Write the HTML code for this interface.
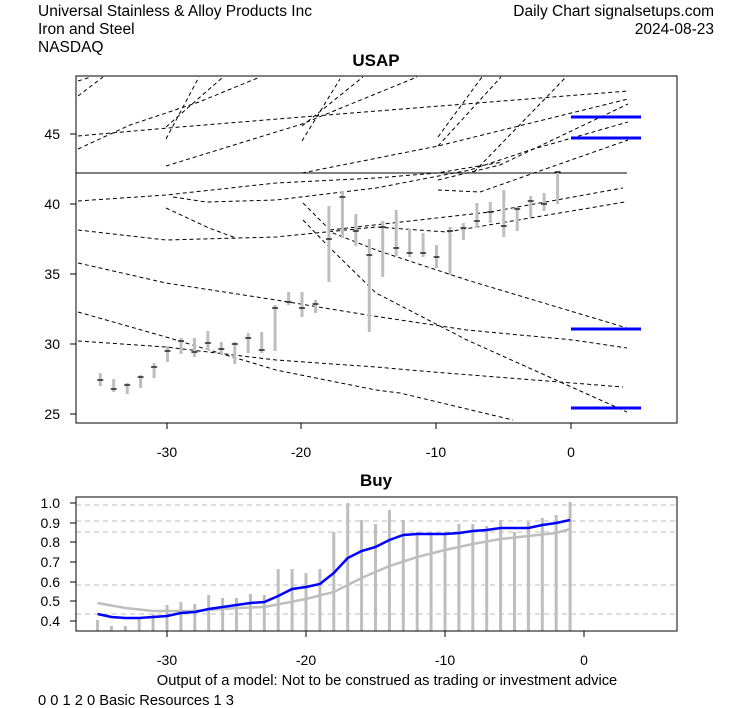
<!DOCTYPE html>
<html><head><meta charset="utf-8"><style>
body{margin:0;background:#fff;}
svg{display:block;font-family:"Liberation Sans",Arial,sans-serif;}
</style></head><body>
<svg width="753" height="708" viewBox="0 0 753 708" xmlns="http://www.w3.org/2000/svg">
<rect width="753" height="708" fill="#fff"/>
<g font-size="15.5" fill="#000">
<text x="38" y="16">Universal Stainless &amp; Alloy Products Inc</text>
<text x="38" y="34">Iron and Steel</text>
<text x="38" y="52">NASDAQ</text>
<text x="714" y="16" text-anchor="end">Daily Chart signalsetups.com</text>
<text x="714" y="34" text-anchor="end">2024-08-23</text>
<text x="376" y="66" text-anchor="middle" font-weight="bold" font-size="17">USAP</text>
<text x="376" y="486" text-anchor="middle" font-weight="bold" font-size="17">Buy</text>
<text x="387" y="685" text-anchor="middle" font-size="14.7">Output of a model: Not to be construed as trading or investment advice</text>
<text x="38" y="705" font-size="14.7">0 0 1 2 0 Basic Resources 1 3</text>
</g>
<g fill="none" stroke="#000" stroke-width="1" stroke-dasharray="4,3">
<polyline points="78,96 103,77"/>
<polyline points="78,81 91,77"/>
<polyline points="78,149 130,125 199,102 260,77"/>
<polyline points="78,136 168,128 302,117 440,106 628,91"/>
<polyline points="166,139 199,77"/>
<polyline points="166,127 223,77"/>
<polyline points="166,166 302,124 417,77"/>
<polyline points="302,141 340,79"/>
<polyline points="302,126 363,77"/>
<polyline points="438,137 482,77"/>
<polyline points="438,146 501,77"/>
<polyline points="474,172 566,77"/>
<polyline points="302,173 438,146 628,99"/>
<polyline points="438,180 500,165 628,104"/>
<polyline points="438,190 480,192 628,140"/>
<polyline points="78,201 166,195 276,183 376,178 437,173 503,162"/>
<polyline points="173,197 206,202 276,200 376,188 470,170 530,150 628,122"/>
<polyline points="78,230 166,240 276,237 376,227 447,232 530,218 625,202"/>
<polyline points="330,230 490,212 623,188"/>
<polyline points="166,208 209,228 236,238"/>
<polyline points="78,263 166,283 276,300 367,315 467,330 573,340 627,348"/>
<polyline points="78,312 166,337 276,370 376,390 400,393 513,420"/>
<polyline points="78,341 166,347 276,360 376,367 433,372 623,387"/>
<polyline points="303,203 333,233 376,250 467,280 627,328"/>
<polyline points="303,220 329,247 376,293 467,340 627,412"/>
</g>
<line x1="76" y1="173" x2="627" y2="173" stroke="#000" stroke-width="1"/>
<g stroke="#0000ff" stroke-width="3">
<line x1="571" y1="117" x2="641" y2="117"/>
<line x1="571" y1="138" x2="641" y2="138"/>
<line x1="571" y1="329" x2="641" y2="329"/>
<line x1="571" y1="408" x2="641" y2="408"/>
</g>
<g stroke="#bebebe" stroke-width="3">
<line x1="100.3" y1="373" x2="100.3" y2="386"/>
<line x1="113.7" y1="379" x2="113.7" y2="392"/>
<line x1="127.2" y1="383" x2="127.2" y2="394"/>
<line x1="140.6" y1="375" x2="140.6" y2="388"/>
<line x1="154.1" y1="363" x2="154.1" y2="378"/>
<line x1="167.5" y1="346" x2="167.5" y2="362"/>
<line x1="181" y1="338" x2="181" y2="354"/>
<line x1="194.4" y1="338" x2="194.4" y2="357"/>
<line x1="207.9" y1="331" x2="207.9" y2="350"/>
<line x1="221.3" y1="342" x2="221.3" y2="355"/>
<line x1="234.8" y1="342" x2="234.8" y2="364"/>
<line x1="248.2" y1="333" x2="248.2" y2="353"/>
<line x1="261.7" y1="332" x2="261.7" y2="353"/>
<line x1="275.1" y1="305" x2="275.1" y2="351"/>
<line x1="288.6" y1="292" x2="288.6" y2="305"/>
<line x1="302" y1="292" x2="302" y2="317"/>
<line x1="315.5" y1="300" x2="315.5" y2="313"/>
<line x1="328.9" y1="206" x2="328.9" y2="282"/>
<line x1="342.4" y1="191" x2="342.4" y2="238"/>
<line x1="355.8" y1="214" x2="355.8" y2="246"/>
<line x1="369.3" y1="239" x2="369.3" y2="332"/>
<line x1="382.7" y1="221" x2="382.7" y2="277"/>
<line x1="396.2" y1="210" x2="396.2" y2="256"/>
<line x1="409.6" y1="229" x2="409.6" y2="257"/>
<line x1="423.1" y1="233" x2="423.1" y2="257"/>
<line x1="436.5" y1="245" x2="436.5" y2="268"/>
<line x1="450" y1="227" x2="450" y2="275"/>
<line x1="463.4" y1="223" x2="463.4" y2="240"/>
<line x1="476.9" y1="203" x2="476.9" y2="228"/>
<line x1="490.3" y1="202" x2="490.3" y2="223"/>
<line x1="503.8" y1="190" x2="503.8" y2="237"/>
<line x1="517.2" y1="207" x2="517.2" y2="231"/>
<line x1="530.7" y1="196" x2="530.7" y2="217"/>
<line x1="544.1" y1="193" x2="544.1" y2="211"/>
<line x1="557.6" y1="171" x2="557.6" y2="204"/>
</g>
<g stroke="#000" stroke-width="1.2">
<path d="M97.3 380h6M110.7 389h6M124.2 385h6M137.6 377h6M151.1 367h6M164.5 351h6M178 341h6M191.4 352h6M204.9 343h6M218.3 349h6M231.8 344h6M245.2 338h6M258.7 350h6M272.1 308h6M285.6 302h6M299 308h6M312.5 304h6M325.9 239h6M339.4 197h6M352.8 231h6M366.3 255h6M379.7 227h6M393.2 248h6M406.6 253h6M420.1 253h6M433.5 257h6M447 231h6M460.4 228h6M473.9 221h6M487.3 212h6M500.8 226h6M514.2 209h6M527.7 201h6M541.1 204h6M554.6 172h6"/>
</g>
<rect x="76" y="76" width="601" height="347" fill="none" stroke="#000" stroke-width="1"/>
<g stroke="#000"><path d="M70 134h6M70 204h6M70 274h6M70 344h6M70 414h6M167 423v6M301 423v6M436 423v6M571 423v6"/></g>
<g font-size="14" fill="#000">
<text x="60" y="139" text-anchor="end">45</text>
<text x="60" y="209" text-anchor="end">40</text>
<text x="60" y="279" text-anchor="end">35</text>
<text x="60" y="349" text-anchor="end">30</text>
<text x="60" y="419" text-anchor="end">25</text>
<text x="167" y="457" text-anchor="middle">-30</text>
<text x="301" y="457" text-anchor="middle">-20</text>
<text x="436" y="457" text-anchor="middle">-10</text>
<text x="571" y="457" text-anchor="middle">0</text>
</g>
<g stroke="#bebebe" stroke-width="1" stroke-dasharray="5,4">
<line x1="76" y1="505" x2="677" y2="505"/>
<line x1="76" y1="521" x2="677" y2="521"/>
<line x1="76" y1="532" x2="677" y2="532"/>
<line x1="76" y1="585" x2="677" y2="585"/>
<line x1="76" y1="614" x2="677" y2="614"/>
</g>
<g stroke="#bebebe" stroke-width="3">
<path d="M97.5 631V620M111.4 631V626M125.3 631V626M139.2 631V618M153.1 631V614M167 631V605M180.9 631V602M194.8 631V604M208.7 631V595M222.6 631V598M236.5 631V598M250.4 631V594M264.3 631V595M278.2 631V569M292.1 631V569M306 631V573M319.9 631V569M333.8 631V532M347.7 631V503M361.6 631V520M375.5 631V524M389.4 631V510M403.3 631V520M417.2 631V532M431.1 631V532M445 631V532M458.9 631V524M472.8 631V524M486.7 631V526M500.6 631V520M514.5 631V532M528.4 631V522M542.3 631V518M556.2 631V515M570.1 631V502"/>
</g>
<polyline fill="none" stroke="#bebebe" stroke-width="2.5" points="97.5,603 125.3,608 153.1,611 194.8,611 236.5,608 264.3,607 306,599 333.8,592 361.6,578 389.4,566 417.2,557 445,550 472.8,544 500.6,539 528.4,536 556.2,533 570.1,529"/>
<polyline fill="none" stroke="#0000ff" stroke-width="2.5" points="97.5,614 111.4,617 125.3,618 139.2,618 153.1,617 167,616 180.9,613 194.8,612 208.7,609 222.6,607 236.5,605 250.4,603 264.3,602 278.2,596 292.1,589 306,587 319.9,584 333.8,573 347.7,558 361.6,551 375.5,547 389.4,540 403.3,535 417.2,534 431.1,534 445,534 458.9,533 472.8,531 486.7,530 500.6,528 514.5,528 528.4,528 542.3,525 556.2,523 570.1,520"/>
<rect x="76" y="497" width="601" height="134" fill="none" stroke="#000" stroke-width="1"/>
<g stroke="#000"><path d="M70 503h6M70 523h6M70 542h6M70 562h6M70 582h6M70 601h6M70 621h6M167 631v6M306 631v6M445 631v6M584 631v6"/></g>
<g font-size="14" fill="#000">
<text x="60" y="508" text-anchor="end">1.0</text>
<text x="60" y="528" text-anchor="end">0.9</text>
<text x="60" y="547" text-anchor="end">0.8</text>
<text x="60" y="567" text-anchor="end">0.7</text>
<text x="60" y="587" text-anchor="end">0.6</text>
<text x="60" y="606" text-anchor="end">0.5</text>
<text x="60" y="626" text-anchor="end">0.4</text>
<text x="167" y="665" text-anchor="middle">-30</text>
<text x="306" y="665" text-anchor="middle">-20</text>
<text x="445" y="665" text-anchor="middle">-10</text>
<text x="584" y="665" text-anchor="middle">0</text>
</g>
</svg>
</body></html>
